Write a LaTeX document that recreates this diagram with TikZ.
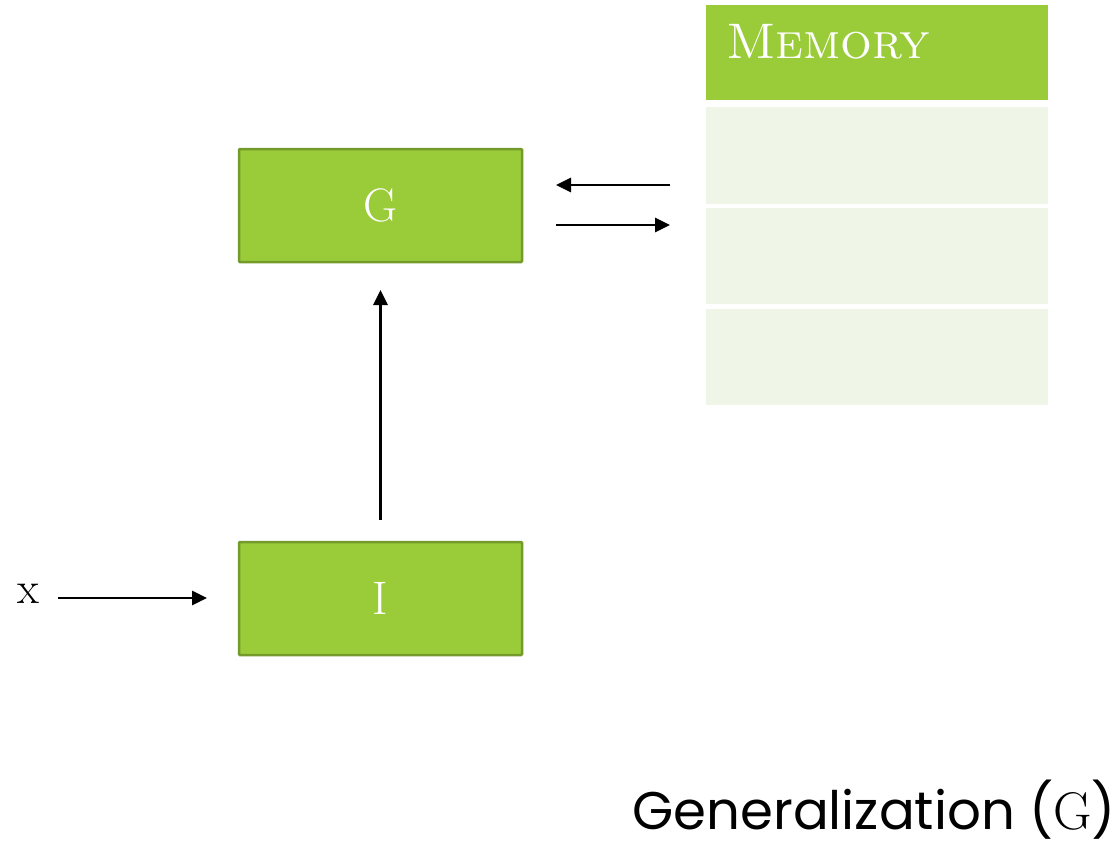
\documentclass[tikz,border=0pt]{standalone}
\usepackage{fontspec}
\newfontfamily\geofont{Poppins}
\usetikzlibrary{arrows.meta}
\definecolor{leaf}{RGB}{154,204,58}
\definecolor{leafedge}{RGB}{116,154,44}
\definecolor{paleleaf}{RGB}{239,245,231}
\tikzset{
  module/.style={draw=leafedge, line width=2.5pt, fill=leaf, rounded corners=1pt,
    minimum width=283pt, minimum height=113pt, inner sep=0pt,
    text=white, font=\fontsize{47}{50}\selectfont},
  slot/.style={fill=paleleaf, minimum width=342pt, minimum height=96pt, inner sep=0pt},
  flow/.style={line width=2.8pt, -{Triangle[length=15pt,width=14pt]}},
}
\begin{document}
\begin{tikzpicture}[x=1pt,y=-1pt]
  \useasboundingbox (0,0) rectangle (1120,843);
  % processing modules
  \node[module] (G) at (380.5,205.5) {G};
  \node[module] (I) at (380.5,598.5) {I};
  \node[font=\fontsize{45}{48}\selectfont] (x) at (28,594) {x};
  % memory block
  \node[fill=leaf, minimum width=342pt, minimum height=95pt, inner sep=0pt] (mem) at (877,52.5) {};
  \node[anchor=base west, text=white, font=\fontsize{50}{54}\selectfont\scshape, inner sep=0pt] (memlabel) at (726,59) {Memory};
  \node[slot] (m1) at (877,155.5) {};
  \node[slot] (m2) at (877,255.5) {};
  \node[slot] (m3) at (877,356.5) {};
  % connectors
  \coordinate (gin) at (380.5,290);
  \coordinate (iout) at (380.5,520);
  \coordinate (xin) at (207,598);
  \coordinate (xout) at (58,598);
  \coordinate (mr1) at (670,185);
  \coordinate (gl1) at (556,185);
  \coordinate (gl2) at (556,225);
  \coordinate (mr2) at (670,225);
  \draw[flow] (xout) -- (xin);
  \draw[flow] (iout) -- (gin);
  \draw[flow] (mr1) -- (gl1);
  \draw[flow] (gl2) -- (mr2);
  % caption
  \node[anchor=base east, font=\fontsize{53}{56}\selectfont, inner sep=0pt] (cap) at (1116,829)
    {{\geofont Generalization (}G{\geofont )}};
\end{tikzpicture}
\end{document}
